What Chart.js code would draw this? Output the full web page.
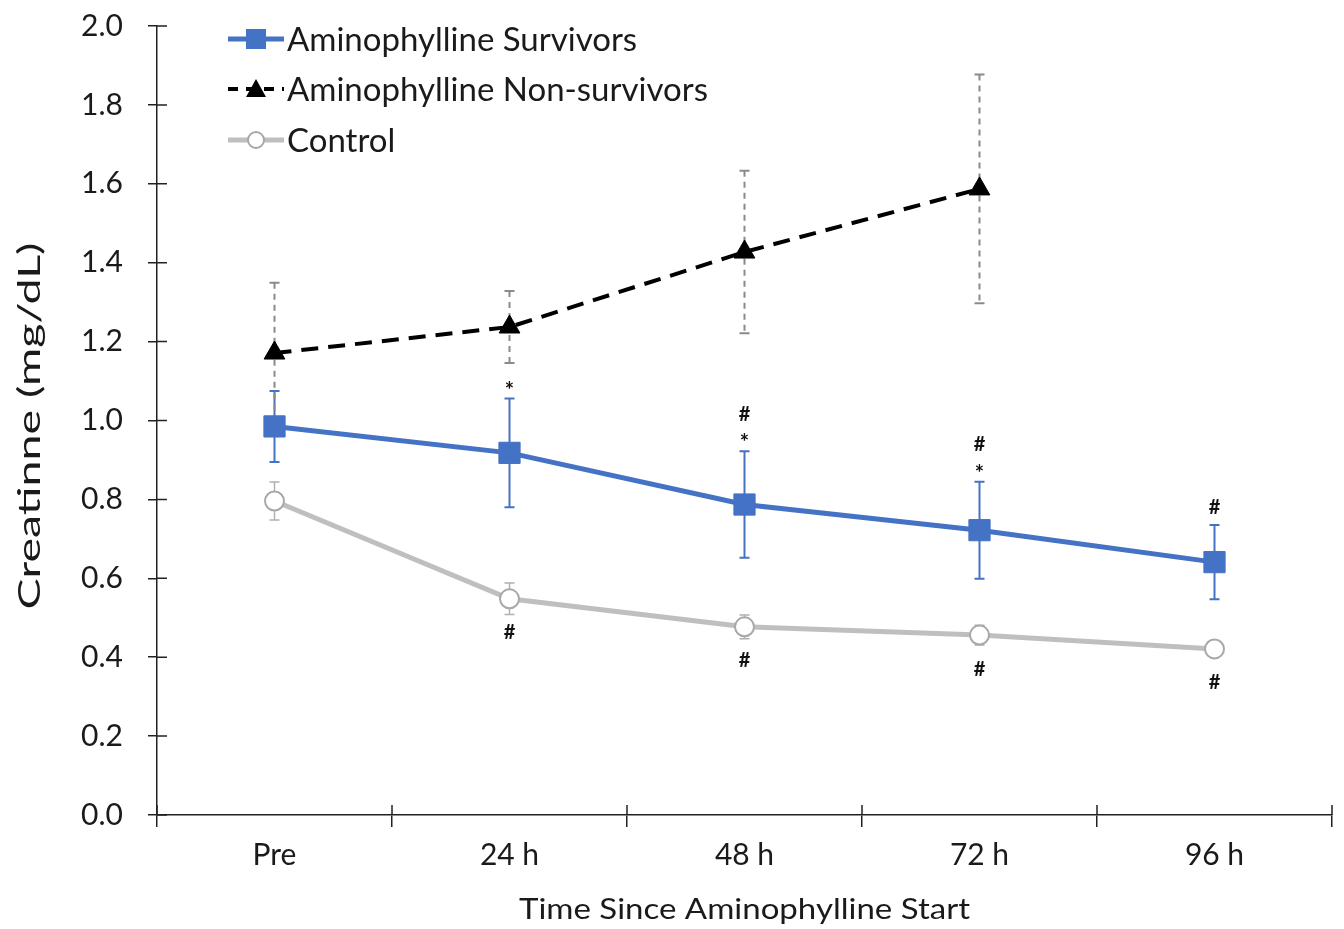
<!DOCTYPE html>
<html>
<head>
<meta charset="utf-8">
<script src="https://cdn.jsdelivr.net/npm/chart.js@4"></script>
<style>
html,body{margin:0;padding:0;background:#fff;}
#wrap{width:1344px;height:929px;position:relative;}
</style>
</head>
<body>
<div id="wrap"><canvas id="c" width="1344" height="929"></canvas></div>
<script>
const categories = ['Pre', '24 h', '48 h', '72 h', '96 h'];
const survivors = [0.985, 0.918, 0.787, 0.722, 0.641];
const survivorsErr = [0.09, 0.138, 0.135, 0.123, 0.094];
const nonSurvivors = [1.171, 1.237, 1.427, 1.587, null];
const nonSurvivorsErr = [0.178, 0.091, 0.206, 0.29, null];
const control = [0.796, 0.548, 0.477, 0.456, 0.421];
const controlErr = [0.048, 0.04, 0.03, 0.025, 0.01];
const survivorMarks = ['', '*', '#*', '#*', '#'];
const controlMarks = ['', '#', '#', '#', '#'];
const yTicks = [0, 0.2, 0.4, 0.6, 0.8, 1.0, 1.2, 1.4, 1.6, 1.8, 2.0];
const xTitle = 'Time Since Aminophylline Start';
const yTitle = 'Creatinne (mg/dL)';
const legendLabels = ['Aminophylline Survivors', 'Aminophylline Non-survivors', 'Control'];

const FONT = 'Lato, "Open Sans", sans-serif';
const TEXT = '#1a1a1a';
const BLUE = '#4472C4';
const GRAY = '#BFBFBF';

const errors = [
  {ds: 0, err: survivorsErr, color: BLUE, width: 2, dash: []},
  {ds: 1, err: nonSurvivorsErr, color: '#8a8a8a', width: 2, dash: [6, 5]},
  {ds: 2, err: controlErr, color: '#b0b0b0', width: 1.5, dash: []}
];

const errorBarPlugin = {
  id: 'errorBars',
  beforeDatasetsDraw(chart) {
    const ctx = chart.ctx, x = chart.scales.x, y = chart.scales.y;
    errors.forEach(e => {
      const data = chart.data.datasets[e.ds].data;
      ctx.save();
      ctx.strokeStyle = e.color; ctx.lineWidth = e.width;
      data.forEach((v, i) => {
        if (v == null || e.err[i] == null) return;
        const px = x.getPixelForValue(i);
        const top = y.getPixelForValue(v + e.err[i]);
        const bot = y.getPixelForValue(v - e.err[i]);
        ctx.setLineDash(e.dash);
        ctx.beginPath(); ctx.moveTo(px, top); ctx.lineTo(px, bot); ctx.stroke();
        ctx.setLineDash([]);
        ctx.beginPath();
        ctx.moveTo(px - 5, top); ctx.lineTo(px + 5, top);
        ctx.moveTo(px - 5, bot); ctx.lineTo(px + 5, bot);
        ctx.stroke();
      });
      ctx.restore();
    });
  }
};

const marksPlugin = {
  id: 'marks',
  afterDatasetsDraw(chart) {
    const ctx = chart.ctx, x = chart.scales.x, y = chart.scales.y;
    ctx.save();
    ctx.fillStyle = '#111';
    ctx.textAlign = 'center';
    ctx.textBaseline = 'middle';
    survivorMarks.forEach((m, i) => {
      if (!m) return;
      const px = x.getPixelForValue(i);
      let py = y.getPixelForValue(survivors[i] + survivorsErr[i]) - 14;
      m.split('').reverse().forEach(ch => {
        if (ch === '*') { ctx.font = 'bold 22px ' + FONT; ctx.fillText('*', px, py + 6); py -= 20; }
        else { ctx.font = 'bold 20px ' + FONT; ctx.fillText('#', px, py - 3); py -= 26; }
      });
    });
    ctx.font = 'bold 20px ' + FONT;
    controlMarks.forEach((m, i) => {
      if (!m) return;
      const px = x.getPixelForValue(i);
      const py = y.getPixelForValue(control[i]) + 34;
      ctx.fillText(m, px, py);
    });
    ctx.restore();
  }
};

const axisExtrasPlugin = {
  id: 'axisExtras',
  afterDraw(chart) {
    const ctx = chart.ctx, y = chart.scales.y, a = chart.chartArea;
    ctx.save();
    ctx.strokeStyle = '#222'; ctx.lineWidth = 1.5;
    ctx.beginPath();
    yTicks.forEach(t => {
      const py = y.getPixelForValue(t);
      ctx.moveTo(a.left, py); ctx.lineTo(a.left + 10, py);
    });
    for (let i = 0; i <= categories.length; i++) {
      const px = a.left + (a.right - a.left) * i / categories.length;
      ctx.moveTo(px, a.bottom); ctx.lineTo(px, a.bottom - 10);
    }
    ctx.stroke();
    // axis titles (stretched like the original figure)
    ctx.fillStyle = TEXT;
    ctx.textAlign = 'center'; ctx.textBaseline = 'middle';
    ctx.font = '29px ' + FONT;
    let w = ctx.measureText(xTitle).width;
    ctx.save();
    ctx.translate((a.left + a.right) / 2, 910);
    ctx.scale(451 / w, 1);
    ctx.fillText(xTitle, 0, 0);
    ctx.restore();
    ctx.font = '31px ' + FONT;
    w = ctx.measureText(yTitle).width;
    ctx.save();
    ctx.translate(30, 426);
    ctx.rotate(-Math.PI / 2);
    ctx.scale(367 / w, 1);
    ctx.fillText(yTitle, 0, 0);
    ctx.restore();
    ctx.restore();
  }
};

const legendPlugin = {
  id: 'customLegend',
  afterDraw(chart) {
    const ctx = chart.ctx;
    const ys = [39, 89, 140];
    ctx.save();
    legendLabels.forEach((label, k) => {
      const d = chart.data.datasets[k];
      const ly = ys[k];
      ctx.strokeStyle = d.borderColor; ctx.lineWidth = d.borderWidth;
      ctx.setLineDash(k === 1 ? [10, 8] : []);
      ctx.beginPath(); ctx.moveTo(228, ly); ctx.lineTo(284, ly); ctx.stroke();
      ctx.setLineDash([]);
      ctx.fillStyle = d.pointBackgroundColor;
      ctx.strokeStyle = d.pointBorderColor; ctx.lineWidth = d.pointBorderWidth;
      const cx = 256;
      if (k === 0) { ctx.fillRect(cx - 10, ly - 10, 20, 20); }
      else if (k === 1) {
        ctx.beginPath(); ctx.moveTo(cx, ly - 10); ctx.lineTo(cx + 10, ly + 8); ctx.lineTo(cx - 10, ly + 8); ctx.closePath(); ctx.fill();
      } else {
        ctx.beginPath(); ctx.arc(cx, ly, 8, 0, Math.PI * 2); ctx.fill(); ctx.stroke();
      }
      ctx.fillStyle = TEXT;
      ctx.font = '33px ' + FONT;
      ctx.textAlign = 'left'; ctx.textBaseline = 'middle';
      ctx.fillText(label, 287, ly + 1);
    });
    ctx.restore();
  }
};

new Chart(document.getElementById('c'), {
  type: 'line',
  data: {
    labels: categories,
    datasets: [
      {label: legendLabels[0], data: survivors, borderColor: BLUE, borderWidth: 5,
       pointStyle: 'rect', pointRadius: 15, pointBackgroundColor: BLUE, pointBorderColor: BLUE, pointBorderWidth: 1, tension: 0},
      {label: legendLabels[1], data: nonSurvivors, borderColor: '#000', borderWidth: 4, borderDash: [17, 10],
       pointStyle: 'triangle', pointRadius: 12, pointBackgroundColor: '#000', pointBorderColor: '#000', pointBorderWidth: 1, tension: 0},
      {label: legendLabels[2], data: control, borderColor: GRAY, borderWidth: 5,
       pointStyle: 'circle', pointRadius: 9.5, pointBackgroundColor: '#fff', pointBorderColor: '#a8a8a8', pointBorderWidth: 2, tension: 0}
    ]
  },
  options: {
    responsive: false,
    animation: false,
    devicePixelRatio: 1,
    layout: {autoPadding: false, padding: {top: 26, right: 12, left: 0, bottom: 0}},
    plugins: {legend: {display: false}, tooltip: {enabled: false}},
    scales: {
      x: {
        offset: true,
        grid: {offset: true, drawOnChartArea: false, drawTicks: true, tickLength: 12, color: '#222', lineWidth: 1.5},
        border: {display: true, color: '#222', width: 1.5},
        ticks: {color: TEXT, font: {family: FONT, size: 30}, padding: 10},
        title: {display: false},
        afterFit(s) { s.height = 114; s.paddingLeft = 0; s.paddingRight = 0; }
      },
      y: {
        min: 0, max: 2.0,
        afterBuildTicks(s) { s.ticks = yTicks.map(v => ({value: v})); },
        grid: {drawOnChartArea: false, drawTicks: true, tickLength: 9, color: '#222', lineWidth: 1.5},
        border: {display: true, color: '#222', width: 1.5},
        ticks: {color: TEXT, font: {family: FONT, size: 30}, padding: 25, callback: v => Number(v).toFixed(1)},
        title: {display: false},
        afterFit(s) { s.width = 157; s.paddingTop = 0; s.paddingBottom = 0; }
      }
    }
  },
  plugins: [errorBarPlugin, marksPlugin, axisExtrasPlugin, legendPlugin]
});
</script>
</body>
</html>
